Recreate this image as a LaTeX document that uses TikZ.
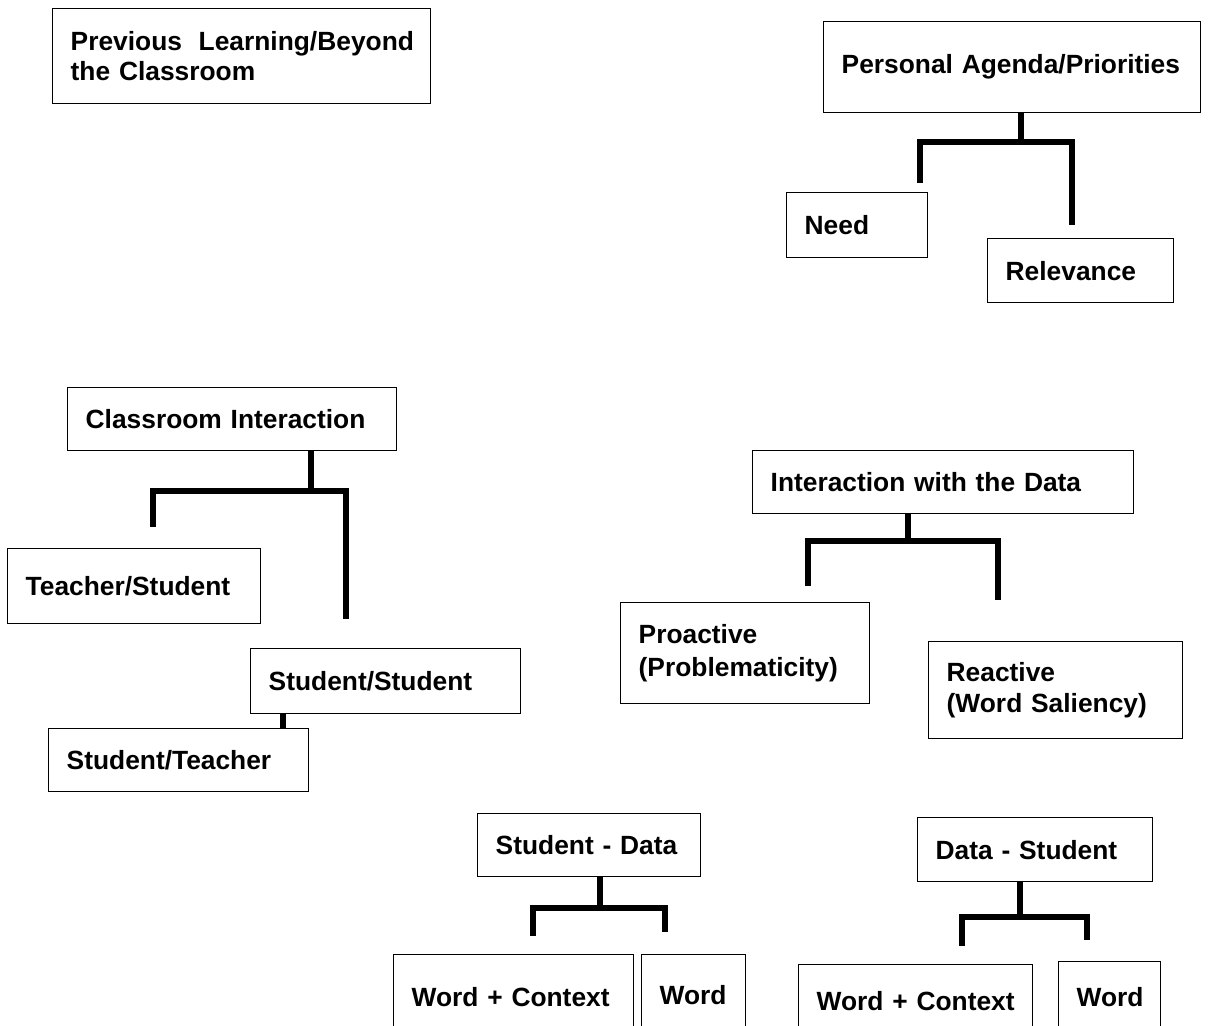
\documentclass[tikz,border=0pt]{standalone}
\usepackage{fontspec}
\setmainfont{Liberation Sans}
\usetikzlibrary{positioning}
\tikzset{
    box/.style={draw, line width=0.8pt, anchor=north west, inner xsep=0.36cm, inner ysep=0pt,
        align=left, font=\bfseries\fontsize{15}{19}\selectfont},
    branch/.style={line width=3.6pt}
}

\begin{document}
\begin{tikzpicture}[x=0.02cm, y=-0.02cm]
    \useasboundingbox (0,0) rectangle (1209,1025);
    \clip (0,0) rectangle (1209,1025);

    % Boxes
    \node[box, text width=6.84cm, minimum height=1.90cm] (prev) at (52,8) {\mbox{Previous\hspace{0.3em} Learning/Beyond}\\[-2pt]the Classroom};
    \node[box, text width=6.82cm, minimum height=1.82cm] (pa) at (823,21) {Personal Agenda/Priorities};
    \node[box, text width=2.10cm, minimum height=1.30cm] (need) at (786,192) {Need};
    \node[box, text width=3.00cm, minimum height=1.28cm] (rel) at (987,238) {Relevance};

    \node[box, text width=5.86cm, minimum height=1.26cm] (ci) at (67,387) {Classroom Interaction};
    \node[box, text width=4.34cm, minimum height=1.50cm] (ts) at (7,548) {Teacher/Student};
    \node[box, text width=4.68cm, minimum height=1.30cm] (ss) at (250,648) {Student/Student};
    \node[box, text width=4.48cm, minimum height=1.26cm] (st) at (48,728) {Student/Teacher};

    \node[box, text width=6.90cm, minimum height=1.26cm] (iwd) at (752,450) {Interaction with the Data};
    \node[box, text width=4.26cm, minimum height=2.02cm] (pro) at (620,602) {Proactive\\(Problematicity)};
    \node[box, text width=4.36cm, minimum height=1.94cm] (rea) at (928,641) {Reactive\\[-1pt](Word Saliency)};

    \node[box, text width=3.74cm, minimum height=1.26cm] (sd) at (477,813) {Student - Data};
    \node[box, text width=4.08cm, minimum height=1.68cm] (wc1) at (393,954) {Word + Context};
    \node[box, text width=1.36cm, minimum height=1.60cm] (w1) at (641,954) {Word};

    \node[box, text width=3.98cm, minimum height=1.28cm] (ds) at (917,817) {Data - Student};
    \node[box, text width=3.96cm, minimum height=1.44cm] (wc2) at (798,964) {Word + Context};
    \node[box, text width=1.32cm, minimum height=1.40cm] (w2) at (1058,961) {Word};

    % Junctions and free ends of the branches
    \coordinate (pa-j) at (1021,142);
    \coordinate (need-e) at (920,183);
    \coordinate (rel-e) at (1072,225);
    \coordinate (ci-j) at (311,491);
    \coordinate (ts-e) at (153,527);
    \coordinate (ss-e) at (346,619);
    \coordinate (iwd-j) at (908,541);
    \coordinate (pro-e) at (808,586);
    \coordinate (rea-e) at (998,600);
    \coordinate (sd-j) at (600,908);
    \coordinate (wc1-e) at (533,936);
    \coordinate (w1-e) at (665,932);
    \coordinate (ds-j) at (1020,917);
    \coordinate (wc2-e) at (962,946);
    \coordinate (w2-e) at (1087,940);
    \coordinate (ss-st) at (283,720);

    % Branches
    \foreach \p/\l/\r in {pa/need/rel, ci/ts/ss, iwd/pro/rea, sd/wc1/w1, ds/wc2/w2} {
        \draw[branch] (\p.south -| \p-j) -- (\p-j);
        \draw[branch] (\l-e) |- (\p-j) -| (\r-e);
    }
    \draw[branch] (ss.south -| ss-st) -- (st.north -| ss-st);
\end{tikzpicture}
\end{document}
